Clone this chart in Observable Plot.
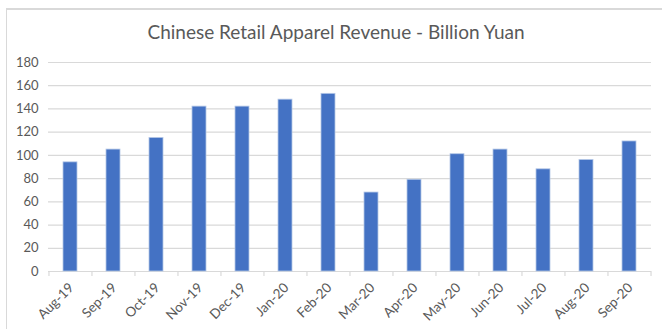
<!DOCTYPE html>
<html>
<head>
<meta charset="utf-8">
<script src="https://cdn.jsdelivr.net/npm/d3@7"></script>
<script src="https://cdn.jsdelivr.net/npm/@observablehq/plot@0.6"></script>
<style>
  html, body { margin: 0; padding: 0; background: #fff; }
  #wrap { position: relative; width: 662px; height: 329px; overflow: hidden; }
  #frame {
    position: absolute; left: 6px; top: 8px; width: 700px; height: 400px;
    border-top: 2px solid #d9d9d9; border-left: 1px solid #d9d9d9;
    pointer-events: none;
  }
  #chart { position: absolute; left: 0; top: 0; }
</style>
</head>
<body>
<div id="wrap">
  <div id="chart"></div>
  <div id="frame"></div>
</div>
<script>
// Monthly retail apparel revenue in China, billion yuan
const months = ["Aug-19", "Sep-19", "Oct-19", "Nov-19", "Dec-19", "Jan-20", "Feb-20",
                "Mar-20", "Apr-20", "May-20", "Jun-20", "Jul-20", "Aug-20", "Sep-20"];
const revenue = [94, 105, 115, 142, 142, 148, 153, 68, 79, 101, 105, 88, 96, 112];
const yTicks = [0, 20, 40, 60, 80, 100, 120, 140, 160, 180];
const title = "Chinese Retail Apparel Revenue - Billion Yuan";

const data = months.map((m, i) => ({month: m, value: revenue[i]}));

const W = 662, H = 329;
const mL = 48, mR = 11, mT = 62, mB = 58;
const step = (W - mL - mR) / months.length;
const ink = "#595959";
const grid = "#d9d9d9";
const font = "Lato, 'Open Sans', sans-serif";

const chart = Plot.plot({
  width: W,
  height: H,
  marginLeft: mL,
  marginRight: mR,
  marginTop: mT,
  marginBottom: mB,
  style: {fontFamily: font, fontSize: "13px", color: ink, background: "transparent"},
  x: {domain: months, paddingInner: 0.68, paddingOuter: 0.34, label: null},
  y: {domain: [0, 180], label: null},
  marks: [
    Plot.gridY(yTicks.filter(t => t > 0), {stroke: grid, strokeOpacity: 1, strokeWidth: 1.2}),
    Plot.ruleY([0], {stroke: grid, strokeWidth: 1.2}),
    // tick marks at the category boundaries below the baseline
    Plot.ruleX(months, {x: d => d, y1: 0, y2: 0, insetBottom: -5, dx: -step / 2, stroke: grid, strokeWidth: 1.2}),
    Plot.ruleX([months[months.length - 1]], {x: d => d, y1: 0, y2: 0, insetBottom: -5, dx: step / 2, stroke: grid, strokeWidth: 1.2}),
    Plot.barY(data, {x: "month", y: "value", fill: "#4472c4", stroke: "#b4c7e7", strokeWidth: 0.8}),
    Plot.axisY({ticks: yTicks, tickSize: 0, tickPadding: 10, fill: ink, fontSize: 13, label: null}),
    Plot.axisX({tickSize: 0, tickRotate: -45, tickPadding: 14, dx: 1, fill: ink, fontSize: 13.5, label: null}),
    Plot.text([title], {frameAnchor: "top", dy: -37, dx: -14, fontSize: 19, fill: ink, fontFamily: font})
  ]
});

document.getElementById("chart").appendChild(chart);
</script>
</body>
</html>
